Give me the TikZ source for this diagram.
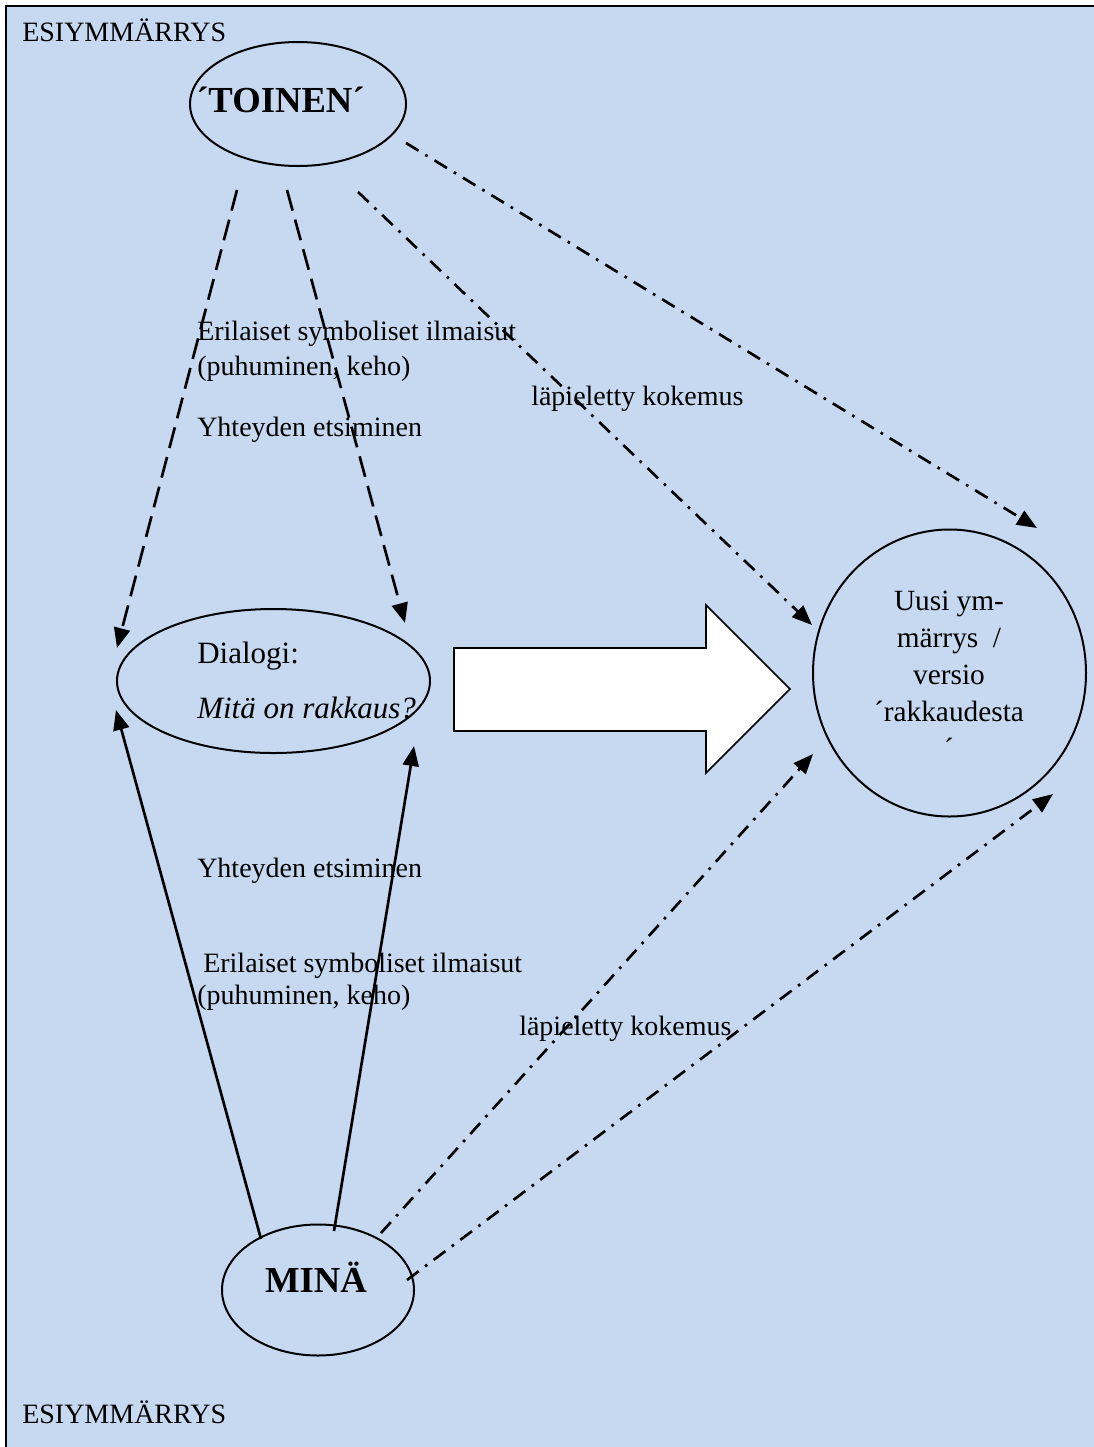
\documentclass[tikz,border=0pt]{standalone}
\usepackage{fontspec}
\setmainfont{Liberation Serif}
\usepackage{tikz}
\usetikzlibrary{shapes.geometric, arrows.meta, positioning}
\definecolor{PaperBlue}{RGB}{198, 217, 241}
\definecolor{InkBlack}{RGB}{0, 0, 0}

\tikzset{
  oval/.style={draw=InkBlack, line width=1.5pt, ellipse, inner sep=0pt},
  tip/.style={-{Triangle[length=15pt, width=12pt]}},
  solidlink/.style={tip, line width=2pt},
  dashlink/.style={tip, line width=2pt, dash pattern=on 16pt off 7pt},
  dotlink/.style={tip, line width=2pt, dash pattern=on 11pt off 6pt on 2pt off 6pt},
  lbl/.style={inner sep=0pt, anchor=west, align=left, font=\fontsize{21}{26}\selectfont}
}

\begin{document}
\begin{tikzpicture}[x=0.75pt,y=-0.75pt]
  \path[use as bounding box] (0,0) rectangle (1094,1447);
  \fill[PaperBlue] (6,6) rectangle (1094,1447);
  \draw[line width=1.8pt] (6,1447) -- (6,6) -- (1094,6);

  \node[lbl] (esitop) at (22,30) {ESIYMMÄRRYS};
  \node[lbl] (esibot) at (22,1412) {ESIYMMÄRRYS};

  % ovals
  \node[oval, minimum width=162pt, minimum height=93pt] (toinen) at (298,104) {};
  \node[oval, minimum width=234.75pt, minimum height=108pt] (dialogi) at (273.5,681) {};
  \node[oval, minimum width=204.75pt, minimum height=215.25pt] (uusi) at (949.5,673) {};
  \node[oval, minimum width=144pt, minimum height=98.25pt] (mina) at (318,1290) {};

  \node[inner sep=0pt, anchor=west, font=\fontsize{27.5}{30}\bfseries] (toinentxt) at (196,100) {´TOINEN´};
  \node[inner sep=0pt, font=\fontsize{27.5}{30}\bfseries] (minatxt) at (316,1277) {MINÄ};
  \node[inner sep=0pt, anchor=west, align=left, font=\fontsize{23.25}{41.25}\selectfont] (dialogitxt) at (197,680)
    {Dialogi:\\ \textit{Mitä on rakkaus?}};
  \node[inner sep=0pt, align=center, font=\fontsize{22}{27.75}\selectfont] (uusitxt) at (949,675)
    {Uusi ym-\\ märrys~~/\\ versio\\ ´rakkaudesta\\ ´};

  % big arrow
  \draw[fill=white, line width=1.2pt] (454,648) -- (706,648) -- (706,605) -- (790,689)
    -- (706,773) -- (706,731) -- (454,731) -- cycle;

  % connector ends
  \coordinate (t1) at (237,190);
  \coordinate (t2) at (287,190);
  \coordinate (t3) at (358,192);
  \coordinate (t4) at (406,143);
  \coordinate (d1) at (117,648);
  \coordinate (d2) at (405,623);
  \coordinate (d3) at (116,710);
  \coordinate (d4) at (414,746);
  \coordinate (u1) at (812,625);
  \coordinate (u2) at (1037,528);
  \coordinate (u3) at (813,754);
  \coordinate (u4) at (1053,794);
  \coordinate (m1) at (261,1239);
  \coordinate (m2) at (334,1231);
  \coordinate (m3) at (381,1233);
  \coordinate (m4) at (407,1280);

  % from TOINEN
  \draw[dashlink] (t1) -- (d1);
  \draw[dashlink] (t2) -- (d2);
  \draw[dotlink] (t3) -- (u1);
  \draw[dotlink] (t4) -- (u2);

  % from MINA
  \draw[solidlink] (m1) -- (d3);
  \draw[solidlink] (m2) -- (d4);
  \draw[dotlink] (m3) -- (u3);
  \draw[dotlink] (m4) -- (u4);

  % labels
  \node[lbl, font=\fontsize{21}{26.25}\selectfont] (symtop) at (197,351)
    {Erilaiset symboliset ilmaisut\\(puhuminen, keho)};
  \node[lbl] (yhttop) at (197,430) {Yhteyden etsiminen};
  \node[lbl] (laptop) at (531,399) {läpieletty kokemus};
  \node[lbl] (yhtbot) at (197,871) {Yhteyden etsiminen};
  \node[lbl, font=\fontsize{21}{24}\selectfont] (symbot) at (197,982)
    {\hspace*{4.5pt}Erilaiset symboliset ilmaisut\\(puhuminen, keho)};
  \node[lbl] (lapbot) at (519,1029) {läpieletty kokemus};
\end{tikzpicture}
\end{document}
